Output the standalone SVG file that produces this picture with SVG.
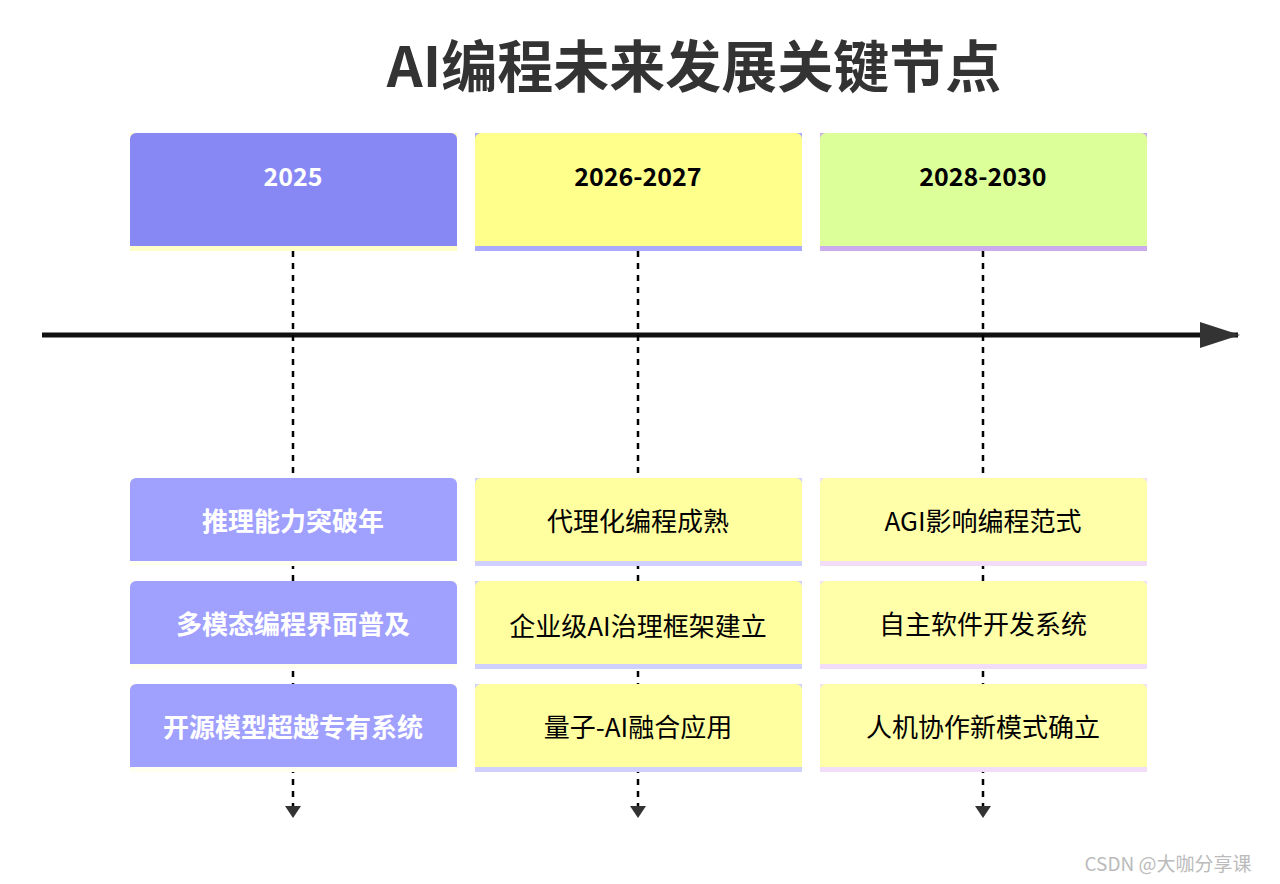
<svg xmlns="http://www.w3.org/2000/svg" width="1280" height="884" viewBox="0 0 1280 884">
<style>
text{font-family:"Noto Sans CJK SC","Noto Sans",sans-serif;text-anchor:middle;dominant-baseline:central}
.h{font-size:25px;font-weight:bold}
.e{font-size:26px}
.w{fill:#fff}
.k{fill:#000}
.d{stroke:#000;stroke-width:2.5;stroke-dasharray:6 6;fill:none}
</style>
<defs>
<marker id="ah" markerWidth="12" markerHeight="16" refX="6" refY="8" orient="auto" markerUnits="userSpaceOnUse"><path d="M0,0 L12,8 L0,16 z" fill="#333"/></marker>
<marker id="big" markerWidth="40" markerHeight="26" refX="38" refY="13" orient="auto" markerUnits="userSpaceOnUse"><path d="M0,0 L40,13 L0,26 z" fill="#333"/></marker>
</defs>
<rect width="1280" height="884" fill="#fff"/>
<text x="694" y="62" style="font-size:56px;font-weight:bold" fill="#333">AI编程未来发展关键节点</text>
<g id="connectors">
<line x1="42" y1="335" x2="1238" y2="335" stroke="#111" stroke-width="5" marker-end="url(#big)"/>
<line class="d" x1="293" y1="251" x2="293" y2="812" marker-end="url(#ah)"/>
<line class="d" x1="638" y1="251" x2="638" y2="812" marker-end="url(#ah)"/>
<line class="d" x1="983" y1="251" x2="983" y2="812" marker-end="url(#ah)"/>
</g>
<g id="h2025"><rect x="130" y="133" width="327" height="118" fill="#ffffc8"/><rect x="130" y="133" width="327" height="113" rx="6" fill="#8888f4"/><rect x="130" y="230" width="327" height="16" fill="#8888f4"/><text class="h w" x="293" y="175">2025</text></g>
<g id="h2026"><rect x="475" y="133" width="327" height="118" fill="#aaaaff"/><rect x="475" y="133" width="327" height="113" rx="6" fill="#ffff8c"/><rect x="475" y="230" width="327" height="16" fill="#ffff8c"/><text class="h k" x="638" y="175">2026-2027</text></g>
<g id="h2028"><rect x="820" y="133" width="327" height="118" fill="#ccaaee"/><rect x="820" y="133" width="327" height="113" rx="6" fill="#ddff99"/><rect x="820" y="230" width="327" height="16" fill="#ddff99"/><text class="h k" x="983" y="175">2028-2030</text></g>

<g id="e1a"><rect x="130" y="478" width="327" height="88" fill="#fffff0"/><rect x="130" y="478" width="327" height="83" rx="6" fill="#a0a0ff"/><rect x="130" y="545" width="327" height="16" fill="#a0a0ff"/><text class="e w" x="293" y="519" font-weight="bold">推理能力突破年</text></g>
<g id="e1b"><rect x="130" y="581" width="327" height="88" fill="#fffff0"/><rect x="130" y="581" width="327" height="83" rx="6" fill="#a0a0ff"/><rect x="130" y="648" width="327" height="16" fill="#a0a0ff"/><text class="e w" x="293" y="622" font-weight="bold">多模态编程界面普及</text></g>
<g id="e1c"><rect x="130" y="684" width="327" height="88" fill="#fffff0"/><rect x="130" y="684" width="327" height="83" rx="6" fill="#a0a0ff"/><rect x="130" y="751" width="327" height="16" fill="#a0a0ff"/><text class="e w" x="293" y="725" font-weight="bold">开源模型超越专有系统</text></g>

<g id="e2a"><rect x="475" y="478" width="327" height="88" fill="#d0d0ff"/><rect x="475" y="478" width="327" height="83" rx="6" fill="#ffffa0"/><rect x="475" y="545" width="327" height="16" fill="#ffffa0"/><text class="e k" x="638" y="519">代理化编程成熟</text></g>
<g id="e2b"><rect x="475" y="581" width="327" height="88" fill="#d0d0ff"/><rect x="475" y="581" width="327" height="83" rx="6" fill="#ffffa0"/><rect x="475" y="648" width="327" height="16" fill="#ffffa0"/><text class="e k" x="638" y="624">企业级AI治理框架建立</text></g>
<g id="e2c"><rect x="475" y="684" width="327" height="88" fill="#d0d0ff"/><rect x="475" y="684" width="327" height="83" rx="6" fill="#ffffa0"/><rect x="475" y="751" width="327" height="16" fill="#ffffa0"/><text class="e k" x="638" y="725">量子-AI融合应用</text></g>

<g id="e3a"><rect x="820" y="478" width="327" height="88" fill="#f2ddf8"/><rect x="820" y="478" width="327" height="83" rx="6" fill="#ffffaa"/><rect x="820" y="545" width="327" height="16" fill="#ffffaa"/><text class="e k" x="983" y="519">AGI影响编程范式</text></g>
<g id="e3b"><rect x="820" y="581" width="327" height="88" fill="#f2ddf8"/><rect x="820" y="581" width="327" height="83" rx="6" fill="#ffffaa"/><rect x="820" y="648" width="327" height="16" fill="#ffffaa"/><text class="e k" x="983" y="622">自主软件开发系统</text></g>
<g id="e3c"><rect x="820" y="684" width="327" height="88" fill="#f2ddf8"/><rect x="820" y="684" width="327" height="83" rx="6" fill="#ffffaa"/><rect x="820" y="751" width="327" height="16" fill="#ffffaa"/><text class="e k" x="983" y="725">人机协作新模式确立</text></g>

<text x="1168" y="862" style="font-size:19px" fill="#bbb">CSDN @大咖分享课</text>
</svg>
